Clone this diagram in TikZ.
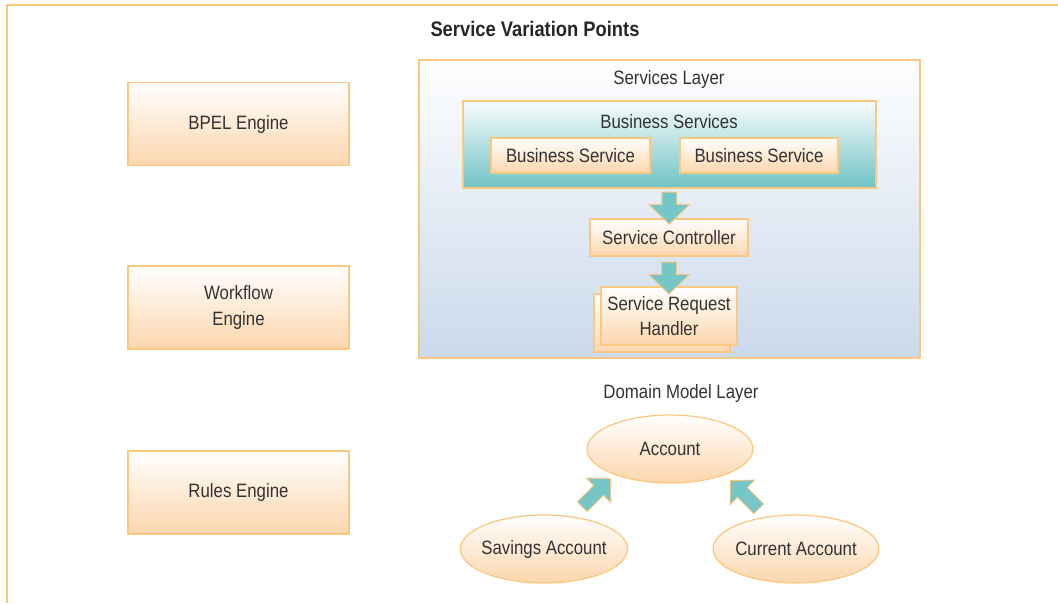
\documentclass[tikz,border=0pt]{standalone}
\usepackage{fontspec}
\setmainfont{Liberation Sans}[FakeStretch=0.87]
\usetikzlibrary{shapes.geometric, shapes.arrows, positioning, calc}

\definecolor{lineorange}{RGB}{251,200,128}
\definecolor{peach}{RGB}{252,214,172}
\definecolor{arrowteal}{RGB}{118,198,200}
\definecolor{bizteal}{RGB}{112,195,197}
\definecolor{layerblue}{RGB}{203,217,236}
\definecolor{textgray}{RGB}{51,51,51}

\tikzset{
  basefont/.style={font=\fontsize{11}{14.5}\selectfont, text=textgray},
  engine/.style={draw=lineorange, line width=0.7pt, top color=white, bottom color=peach,
    minimum width=4.42cm, minimum height=1.66cm, align=center, basefont},
  svcbox/.style={draw=lineorange, line width=0.7pt, top color=white, bottom color=peach,
    inner sep=0pt, align=center, basefont},
  entity/.style={ellipse, draw=lineorange, line width=0.7pt, top color=white, bottom color=peach,
    inner sep=0pt, inner xsep=-0.07cm, minimum width=3.32cm, minimum height=1.36cm, basefont},
  fatarrow/.style={single arrow, draw=lineorange, line width=0.5pt, fill=arrowteal,
    inner sep=0pt, inner ysep=0.14cm, single arrow head extend=0.26cm,
    single arrow tip angle=92, minimum height=0.64cm},
  caption/.style={basefont, inner sep=0pt}
}

\begin{document}
\begin{tikzpicture}[x=0.02cm, y=-0.02cm]
  \useasboundingbox (0,0) rectangle (1058,603);
  % outer frame, only top and left edges show
  \draw[lineorange, line width=1pt] (7,603) -- (7,5) -- (1058,5);
  \node[caption, font=\fontsize{12}{14}\selectfont\bfseries, text=black!85] (title) at (535,29) {Service Variation Points};

  % engines
  \node[engine] (bpel) at (238.5,124) {BPEL Engine};
  \node[engine] (wf) at (238.5,307.5) {Workflow\\Engine};
  \node[engine] (rules) at (238.5,492.5) {Rules Engine};

  % services layer
  \node[draw=lineorange, line width=0.7pt, top color=white!97!layerblue, bottom color=layerblue,
    minimum width=10.02cm, minimum height=5.96cm] (svclayer) at (669.5,209) {};
  \node[caption] (svclabel) at (669,79) {Services Layer};
  \node[draw=lineorange, line width=0.7pt, top color=white!95!bizteal, bottom color=bizteal,
    minimum width=8.26cm, minimum height=1.74cm] (bizsvcs) at (669.5,144.5) {};
  \node[caption] (bizlabel) at (669,122) {Business Services};
  \node[svcbox, minimum width=3.18cm, minimum height=0.70cm] (bs1) at (570.5,155.5) {Business Service};
  \node[svcbox, minimum width=3.16cm, minimum height=0.70cm] (bs2) at (759,155.5) {Business Service};
  \node[svcbox, minimum width=3.16cm, minimum height=0.74cm] (ctrl) at (669,237.5) {Service Controller};
  \node[svcbox, minimum width=2.72cm, minimum height=1.16cm] (handlerbk) at (662,323) {};
  \node[svcbox, minimum width=2.72cm, minimum height=1.16cm] (handler) at (669,316) {Service Request\\Handler};

  \node[fatarrow, rotate=-90] (a1) at ($(bizsvcs.south)!0.5!(ctrl.north)+(0,1)$) {};
  \node[fatarrow, rotate=-90] (a2) at ($(ctrl.south)!0.5!(handler.north)+(0,3)$) {};

  % domain model layer
  \node[caption] (domlabel) at (681,393) {Domain Model Layer};
  \node[entity] (acc) at (670,449) {Account};
  \node[entity] (sav) at (544,549) {Savings Account};
  \node[entity] (cur) at (796,549) {Current Account};

  \node[fatarrow, rotate=45, inner ysep=0.13cm, single arrow head extend=0.21cm, minimum height=0.8cm] (a3) at (594,495) {};
  \node[fatarrow, rotate=135, inner ysep=0.13cm, single arrow head extend=0.21cm, minimum height=0.8cm] (a4) at (747,497) {};
\end{tikzpicture}
\end{document}
